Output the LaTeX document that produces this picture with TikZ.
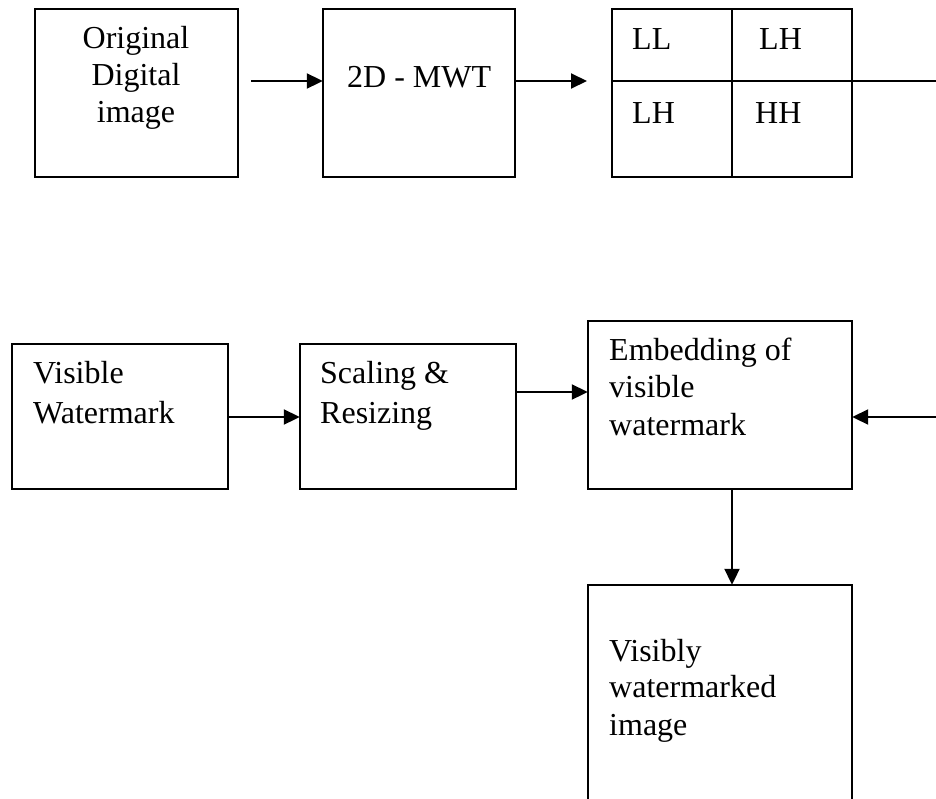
\documentclass[tikz,border=0pt]{standalone}
\usepackage{fontspec}
\setmainfont{Liberation Serif}
\usetikzlibrary{arrows.meta}
\begin{document}
\begin{tikzpicture}[x=1pt,y=-1pt,
  box/.style={draw,line width=2pt},
  lbl/.style={anchor=base west,inner sep=0pt,font=\fontsize{32pt}{37pt}\selectfont},
  clbl/.style={anchor=base,inner sep=0pt,font=\fontsize{32pt}{37pt}\selectfont},
  arr/.style={line width=2pt,-{Triangle[length=16pt,width=15pt]}},
  ln/.style={line width=2pt}]
\useasboundingbox (0,0) rectangle (936,798);
\begin{scope}
\clip (0,0) rectangle (936,798);
% boxes
\draw[box] (35,9) rectangle (238,177);
\node[inner sep=0pt,minimum width=203pt,minimum height=168pt] (b1) at (136.5,93) {};
\draw[box] (323,9) rectangle (515,177);
\node[inner sep=0pt,minimum width=192pt,minimum height=168pt] (b2) at (419,93) {};
\draw[box] (612,9) rectangle (852,177);
\node[inner sep=0pt,minimum width=240pt,minimum height=168pt] (b3) at (732,93) {};
\draw[ln] (732,9) -- (732,177);
\draw[ln] (612,81) -- (852,81);
\draw[box] (12,344) rectangle (228,489);
\node[inner sep=0pt,minimum width=216pt,minimum height=145pt] (b4) at (120,416.5) {};
\draw[box] (300,344) rectangle (516,489);
\node[inner sep=0pt,minimum width=216pt,minimum height=145pt] (b5) at (408,416.5) {};
\draw[box] (588,321) rectangle (852,489);
\node[inner sep=0pt,minimum width=264pt,minimum height=168pt] (b6) at (720,405) {};
\draw[box] (588,810) -- (588,585) -- (852,585) -- (852,810);
\node[inner sep=0pt,minimum width=264pt,minimum height=225pt] (b7) at (720,697.5) {};
\end{scope}
% texts
\node[clbl] (t1a) at (136,48) {Original};
\node[clbl] (t1b) at (136,85) {Digital};
\node[clbl] (t1c) at (136,122) {image};
\node[lbl] (t2) at (347,87) {2D - MWT};
\node[lbl] (t3a) at (632,49) {LL};
\node[lbl] (t3b) at (759,49) {LH};
\node[lbl] (t3c) at (632,123) {LH};
\node[lbl] (t3d) at (755,123) {HH};
\node[lbl] (t4a) at (33,383) {Visible};
\node[lbl] (t4b) at (33,423) {Watermark};
\node[lbl] (t5a) at (320,383) {Scaling \&};
\node[lbl] (t5b) at (320,423) {Resizing};
\node[lbl] (t6a) at (609,360) {Embedding of};
\node[lbl] (t6b) at (609,397) {visible};
\node[lbl] (t6c) at (609,435) {watermark};
\node[lbl] (t7a) at (609,661) {Visibly};
\node[lbl] (t7b) at (609,697) {watermarked};
\node[lbl] (t7c) at (609,735) {image};
% connector coordinates
\coordinate (a1s) at (251,81);
\coordinate (a2e) at (587,81);
\coordinate (r1) at (936,81);
\coordinate (r2) at (938,417);
% connectors
\draw[arr] (a1s) -- (b2.west |- a1s);
\draw[arr] (b2.east |- a2e) -- (a2e);
\draw[ln] (b3.east |- r1) -- (r1);
\draw[arr] (b4.east |- 0,417) -- (b5.west |- 0,417);
\draw[arr] (b5.east |- 0,392) -- (b6.west |- 0,392);
\draw[arr] (r2) -- (b6.east |- r2);
\draw[arr] (b6.south -| b3.center) -- (b7.north -| b3.center);
\end{tikzpicture}
\end{document}
